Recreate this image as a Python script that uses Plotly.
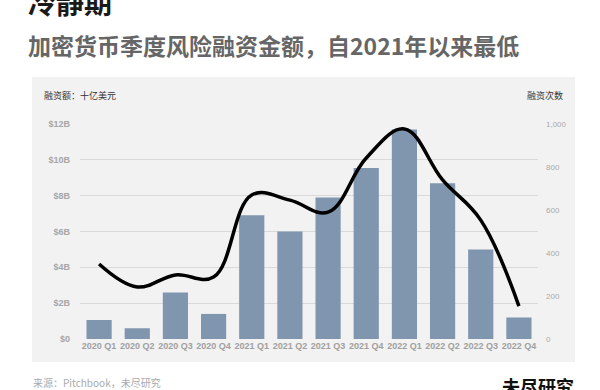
import plotly.graph_objects as go

quarters = ["2020 Q1", "2020 Q2", "2020 Q3", "2020 Q4", "2021 Q1", "2021 Q2",
            "2021 Q3", "2021 Q4", "2022 Q1", "2022 Q2", "2022 Q3", "2022 Q4"]
funding_b = [1.06, 0.6, 2.6, 1.4, 6.9, 6.0, 7.9, 9.55, 11.7, 8.7, 5.0, 1.2]
deal_count = [349, 242, 298, 288, 670, 646, 590, 842, 977, 740, 553, 153]

left_ticks = [0, 2, 4, 6, 8, 10, 12]
left_labels = ["$0", "$2B", "$4B", "$6B", "$8B", "$10B", "$12B"]
right_ticks = [0, 200, 400, 600, 800, 1000]
right_labels = ["0", "200", "400", "600", "800", "1,000"]

FONT = "Noto Sans CJK SC"
TICKFONT = "Liberation Sans"
L, R, T, B = 80, 62, 124, 51
W, H = 600, 390
PW, PH = W - L - R, H - T - B

def px(x):
    return (x - L) / PW

def py(y):
    return (H - B - y) / PH

fig = go.Figure()
fig.add_trace(go.Bar(x=quarters, y=funding_b, marker_color="#8095ae",
                     marker_line_width=0, yaxis="y", name="融资额"))
fig.add_trace(go.Scatter(x=quarters, y=deal_count, mode="lines",
                         line=dict(color="black", width=3.5, shape="spline", smoothing=1.1),
                         yaxis="y2", name="融资次数"))

fig.update_layout(
    width=W, height=H,
    margin=dict(l=L, r=R, t=T, b=B, autoexpand=False),
    paper_bgcolor="white", plot_bgcolor="rgba(0,0,0,0)",
    showlegend=False, bargap=0.34,
    font=dict(family=FONT, color="#999"),
    xaxis=dict(tickfont=dict(size=9, color="#a0a0a0", family=TICKFONT, weight="bold"),
               showgrid=False, showline=False, ticks="", range=[-0.5, 11.5],
               tickangle=0, automargin=False),
    yaxis=dict(range=[0, 12], tickvals=left_ticks, ticktext=left_labels,
               tickfont=dict(size=9, color="#a6a6a6", family=TICKFONT, weight="bold"),
               gridcolor="#d9d9d9", gridwidth=1, zeroline=False, ticklabelstandoff=9,
               automargin=False),
    yaxis2=dict(range=[0, 1000], tickvals=right_ticks, ticktext=right_labels,
                overlaying="y", side="right", showgrid=False, zeroline=False,
                tickfont=dict(size=8, color="#aaa", family=TICKFONT),
                ticklabelstandoff=7, automargin=False),
    shapes=[dict(type="rect", xref="paper", yref="paper", layer="below",
                 x0=px(32), x1=px(575), y0=py(362), y1=py(77),
                 fillcolor="#f2f2f2", line_width=0)],
    annotations=[
        dict(text="<b>冷静期</b>", xref="paper", yref="paper", x=px(26), y=py(2),
             xanchor="left", yanchor="middle", showarrow=False,
             font=dict(size=28, color="#1a1a1a", family=FONT)),
        dict(text="<b>加密货币季度风险融资金额，自2021年以来最低</b>", xref="paper", yref="paper",
             x=px(26), y=py(45), xanchor="left", yanchor="middle", showarrow=False,
             font=dict(size=23, color="#666", family=FONT)),
        dict(text="融资额：十亿美元", xref="paper", yref="paper", x=px(42), y=py(96),
             xanchor="left", yanchor="middle", showarrow=False,
             font=dict(size=9, color="#333", family=FONT)),
        dict(text="融资次数", xref="paper", yref="paper", x=px(565), y=py(96),
             xanchor="right", yanchor="middle", showarrow=False,
             font=dict(size=9, color="#333", family=FONT)),
        dict(text="来源：Pitchbook，未尽研究", xref="paper", yref="paper", x=px(31), y=py(382),
             xanchor="left", yanchor="middle", showarrow=False,
             font=dict(size=10, color="#aaa", family=FONT)),
        dict(text="<b>未尽研究</b>", xref="paper", yref="paper", x=px(576), y=py(386),
             xanchor="right", yanchor="middle", showarrow=False,
             font=dict(size=18, color="#111", family=FONT)),
    ],
)

fig.write_html("out.html", config={"displayModeBar": False},
               post_script="document.body.style.margin='0';")
